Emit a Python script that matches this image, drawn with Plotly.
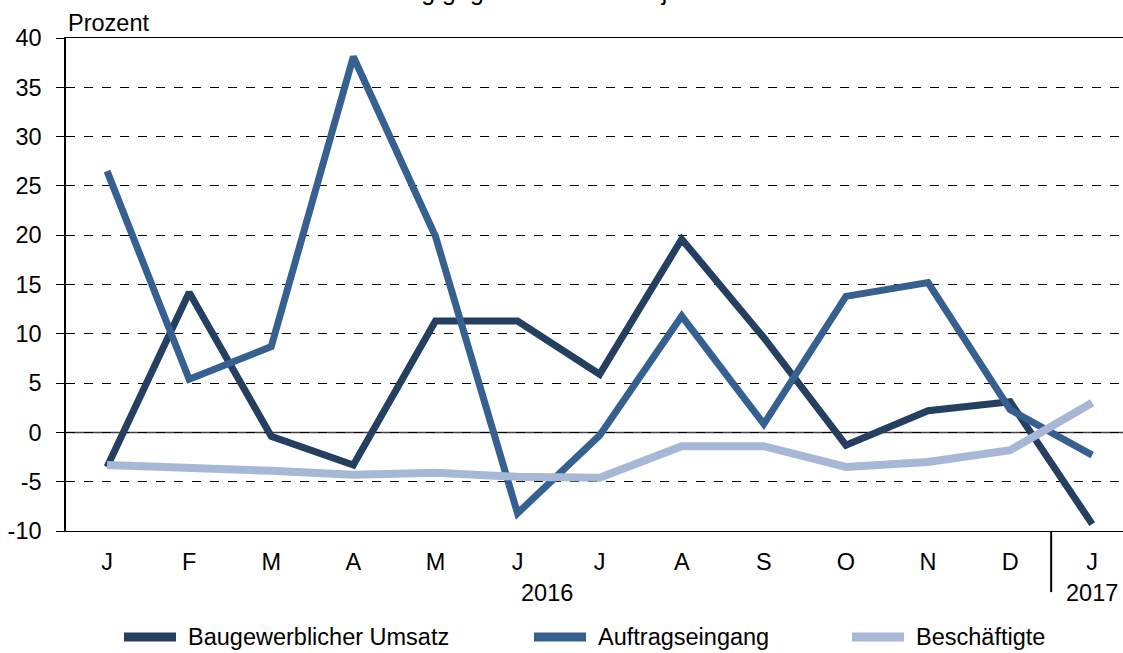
import plotly.graph_objects as go

months = ["J", "F", "M", "A", "M", "J", "J", "A", "S", "O", "N", "D", "J"]
x_idx = list(range(len(months)))

umsatz = [-3.5, 14.2, -0.4, -3.3, 11.3, 11.3, 5.9, 19.6, 9.6, -1.3, 2.2, 3.1, -9.3]
auftrag = [26.5, 5.4, 8.7, 38.1, 19.9, -8.2, -0.3, 11.8, 0.85, 13.8, 15.2, 2.3, -2.3]
beschaeftigte = [-3.3, -3.5, -3.9, -4.3, -4.1, -4.5, -4.6, -1.4, -1.4, -3.5, -3.0, -1.8, 3.0]

series_names = ["Baugewerblicher Umsatz", "Auftragseingang", "Beschäftigte"]
series_values = [umsatz, auftrag, beschaeftigte]
colors = ["#243F60", "#36608F", "#A6B8D5"]
widths = [7, 7, 8]

y_ticks = [-10, -5, 0, 5, 10, 15, 20, 25, 30, 35, 40]
y_ticktext = [str(v) for v in y_ticks]
year_labels = [("2016", 5.36), ("2017", 12.0)]
title_text = "Veränderung gegenüber dem Vorjahresmonat"

FONT = "Liberation Sans, Arial, sans-serif"
FS = 23.5

fig = go.Figure()
for name, vals, col, w in zip(series_names, series_values, colors, widths):
    fig.add_trace(go.Scatter(
        x=x_idx, y=vals, mode="lines", name=name,
        line=dict(color=col, width=w), showlegend=False,
    ))

# zero line
fig.add_shape(type="line", xref="paper", yref="y", x0=0, x1=1, y0=0, y1=0,
              line=dict(color="#404040", width=1.5), layer="below")

# year separator
fig.add_shape(type="line", xref="x", yref="paper", x0=11.5, x1=11.5, y0=0, y1=-0.124,
              line=dict(color="black", width=2))

annotations = []
for txt, pos in year_labels:
    annotations.append(dict(text=txt, x=pos, xref="x", y=-0.126, yref="paper",
                            showarrow=False, xanchor="center", yanchor="middle",
                            font=dict(size=FS, color="black", family=FONT)))
annotations.append(dict(text="Prozent", x=0.0, xref="paper", y=1.0, yref="paper",
                        showarrow=False, xanchor="left", yanchor="bottom",
                        font=dict(size=FS, color="black", family=FONT)))
annotations.append(dict(text=title_text, x=0.212, xref="paper", y=1.095, yref="paper",
                        showarrow=False, xanchor="left", yanchor="middle",
                        font=dict(size=25, color="black", family=FONT)))

# legend (manual)
legend_pos = [(120, 188), (530, 598), (848, 916)]
W, H = 1123, 653
L, R, T, B = 66, 0, 38, 122
pw, ph = W - L - R, H - T - B
leg_y_px = 637
def px_to_paper_x(px):
    return (px - L) / pw
def px_to_paper_y(py):
    return (H - B - py) / ph
for (lx, tx), name, col in zip(legend_pos, series_names, colors):
    fig.add_shape(type="line", xref="paper", yref="paper",
                  x0=px_to_paper_x(lx + 4), x1=px_to_paper_x(lx + 56),
                  y0=px_to_paper_y(leg_y_px), y1=px_to_paper_y(leg_y_px),
                  line=dict(color=col, width=9))
    annotations.append(dict(text=name, x=px_to_paper_x(tx - 2), xref="paper",
                            y=px_to_paper_y(leg_y_px), yref="paper",
                            showarrow=False, xanchor="left", yanchor="middle",
                            font=dict(size=FS, color="black", family=FONT)))

fig.update_layout(
    width=W, height=H,
    margin=dict(l=L, r=R, t=T, b=B, pad=0),
    plot_bgcolor="white", paper_bgcolor="white",
    font=dict(family=FONT, size=FS, color="black"),
    annotations=annotations,
    xaxis=dict(
        range=[-0.5, 12.375], tickmode="array", tickvals=x_idx, ticktext=months,
        showgrid=False, zeroline=False, showline=True, linecolor="black", linewidth=1,
        mirror=True, ticks="", ticklabelstandoff=10,
        tickfont=dict(size=FS, color="black", family=FONT),
    ),
    yaxis=dict(
        range=[-10, 40], tickmode="array", tickvals=y_ticks, ticktext=y_ticktext,
        showgrid=True, gridcolor="black", griddash="dash", gridwidth=1,
        zeroline=False, showline=True, linecolor="black", linewidth=1.5,
        ticks="outside", ticklen=8, tickcolor="black", tickwidth=1,
        ticklabelstandoff=10,
        tickfont=dict(size=FS, color="black", family=FONT),
    ),
)

fig.write_html("out.html", config={"displayModeBar": False},
               post_script="document.body.style.margin='0';document.body.style.overflow='hidden';")
